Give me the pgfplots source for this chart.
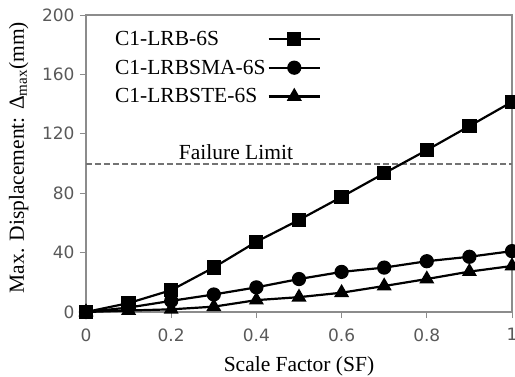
\documentclass[border=0pt]{standalone}
\usepackage{fontspec}
\setmainfont{Liberation Serif}
\newfontfamily\tickfont{DejaVu Sans}
\usepackage{pgfplots}
\pgfplotsset{compat=1.18}
\begin{document}
\begin{tikzpicture}
\begin{axis}[
  scale only axis, width=426pt, height=297pt,
  xmin=0, xmax=1, ymin=0, ymax=200,
  xtick={0,0.2,0.4,0.6,0.8,1}, ytick={0,40,80,120,160,200},
  xtick pos=bottom, ytick pos=left,
  tick align=outside, major tick length=6pt,
  axis line style={draw=black!45, line width=1.2pt},
  every tick/.style={draw=black!45, line width=1pt},
  /pgf/number format/assume math mode=true,
  ticklabel style={font=\tickfont\fontsize{17}{17}\selectfont, text=black!65},
  xticklabel style={yshift=-7pt},
  yticklabel style={xshift=-2pt},
  xlabel={Scale Factor (SF)},
  ylabel={Max. Displacement: Δ\textsubscript{max}(mm)},
  label style={font=\fontsize{21.5}{21.5}\selectfont},
  xlabel style={at={(axis description cs:0.5,0)}, anchor=center, yshift=-54pt},
  ylabel style={at={(axis description cs:-0.158,0.52)}, anchor=center},
  legend style={draw=none, fill=none, font=\fontsize{21.5}{21.5}\selectfont,
    at={(rel axis cs:0.056,0.96)}, anchor=north west, row sep=9pt},
  legend plot pos=right, legend cell align=left,
  legend image code/.code={\draw[mark repeat=2,mark phase=2] plot coordinates {(0cm,0cm) (0.9cm,0cm) (1.8cm,0cm)};},
  every axis plot/.append style={line width=2.2pt, black},
]
\addplot[draw=black!55, line width=2pt, dash pattern=on 6pt off 3pt, forget plot] coordinates {(0,100) (1,100)};
\addplot[mark=square*, mark size=6pt] coordinates {
(0,0) (0.1,6) (0.2,14.7) (0.3,30) (0.4,47.3) (0.5,62) (0.6,77.5) (0.7,93.4) (0.8,109) (0.9,125.2) (1,141.5)};
\addlegendentry{C1-LRB-6S}
\addplot[mark=*, mark size=6pt] coordinates {
(0,0) (0.1,3) (0.2,7.5) (0.3,11.8) (0.4,16.6) (0.5,22.2) (0.6,27) (0.7,29.9) (0.8,34.2) (0.9,37.2) (1,41)};
\addlegendentry{C1-LRBSMA-6S}
\addplot[mark=triangle*, mark size=6.5pt] coordinates {
(0,0) (0.1,1) (0.2,1.8) (0.3,3.6) (0.4,8) (0.5,10) (0.6,13) (0.7,17.5) (0.8,22.2) (0.9,27.2) (1,31)};
\addlegendentry{C1-LRBSTE-6S}
\node[font=\fontsize{21.5}{21.5}\selectfont, anchor=base] at (axis cs:0.352,103) {Failure Limit};
\end{axis}
\pgfresetboundingbox
\path (current axis.south west) ++(-86pt,-64pt) rectangle ++(515pt,376pt);
\end{tikzpicture}
\end{document}
